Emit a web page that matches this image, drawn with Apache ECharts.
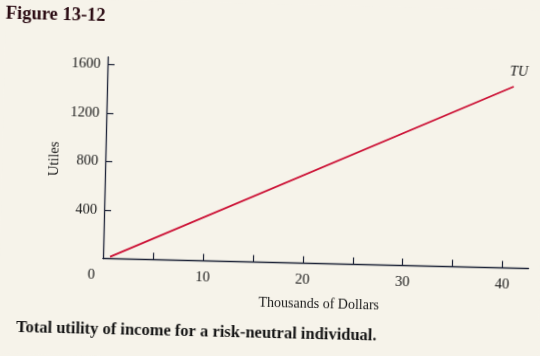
<!DOCTYPE html>
<html>
<head>
<meta charset="utf-8">
<script src="https://cdn.jsdelivr.net/npm/echarts@6/dist/echarts.min.js"></script>
<style>
  html, body { margin: 0; padding: 0; background: #f6f3ea; overflow: hidden; }
  #c { width: 540px; height: 356px; transform: rotate(1.35deg); transform-origin: 103px 258.5px; }
</style>
</head>
<body>
<div id="c"></div>
<script>
// Data
const incomeThousands = [0.7, 40.7];      // x: thousands of dollars
const totalUtility = [15, 1495];          // y: utiles (risk-neutral, linear)
const xTickValues = [5, 10, 15, 20, 25, 30, 35, 40];
const xLabelValues = [0, 10, 20, 30, 40];
const yTickValues = [400, 800, 1200, 1600];
const seriesName = 'TU';
const figureTitle = 'Figure 13-12';
const caption = 'Total utility of income for a risk-neutral individual.';
const xAxisName = 'Thousands of Dollars';
const yAxisName = 'Utiles';

const serif = "'Liberation Serif', 'DejaVu Serif', serif";
const axisColor = '#1e2438';

const lineData = incomeThousands.map((x, i) => [x, totalUtility[i]]);

const chart = echarts.init(document.getElementById('c'), null, { renderer: 'canvas' });
chart.setOption({
  backgroundColor: '#f6f3ea',
  animation: false,
  grid: { left: 103, top: 57, width: 425.6, height: 201.5 },
  xAxis: {
    type: 'value', min: 0, max: 42.6,
    name: xAxisName, nameLocation: 'middle', nameGap: 34,
    nameTextStyle: { fontFamily: serif, fontSize: 14, color: '#1a1a1a', padding: [0, 0, 0, 8] },
    axisLine: { show: true, lineStyle: { color: axisColor, width: 1.3 } },
    axisTick: { show: true, inside: true, length: 7, customValues: xTickValues, lineStyle: { color: axisColor, width: 1.2 } },
    axisLabel: {
      customValues: xLabelValues, margin: 9, fontFamily: serif, fontSize: 14.5, color: '#1a1a1a',
      formatter: v => (v === 0 ? '{z|0}' : String(v)),
      rich: { z: { fontFamily: serif, fontSize: 14.5, color: '#1a1a1a', padding: [0, 23, 0, 0] } }
    },
    splitLine: { show: false }
  },
  yAxis: {
    type: 'value', min: 0, max: 1660,
    name: yAxisName, nameLocation: 'middle', nameRotate: 90, nameGap: 43, nameMoveOverlap: false,
    nameTextStyle: { fontFamily: serif, fontSize: 14.5, color: '#1a1a1a', padding: [0, 4.5, 0, 0] },
    axisLine: { show: true, lineStyle: { color: axisColor, width: 1.3 } },
    axisTick: { show: true, inside: true, length: 7, customValues: yTickValues, lineStyle: { color: axisColor, width: 1.2 } },
    axisLabel: { customValues: yTickValues, margin: 7, fontFamily: serif, fontSize: 14.5, color: '#1a1a1a', formatter: v => String(v) },
    splitLine: { show: false }
  },
  graphic: [
    { type: 'text', left: 0, top: 7, style: { text: figureTitle, font: "bold 18.5px 'Liberation Serif', serif", fill: '#2a0a12' } },
    { type: 'text', x: 198, y: 330, style: { text: caption, font: "bold 16.5px 'Liberation Serif', serif", fill: '#151515', textAlign: 'center', textVerticalAlign: 'middle' } }
  ],
  series: [{
    name: seriesName, type: 'line', data: lineData,
    showSymbol: false, symbol: 'none',
    lineStyle: { color: '#cc1236', width: 1.8 },
    endLabel: {
      show: true, formatter: seriesName, offset: [-12, -15],
      fontFamily: serif, fontStyle: 'italic', fontSize: 14, color: '#1a1a1a'
    },
    emphasis: { disabled: true }
  }]
});
</script>
</body>
</html>
